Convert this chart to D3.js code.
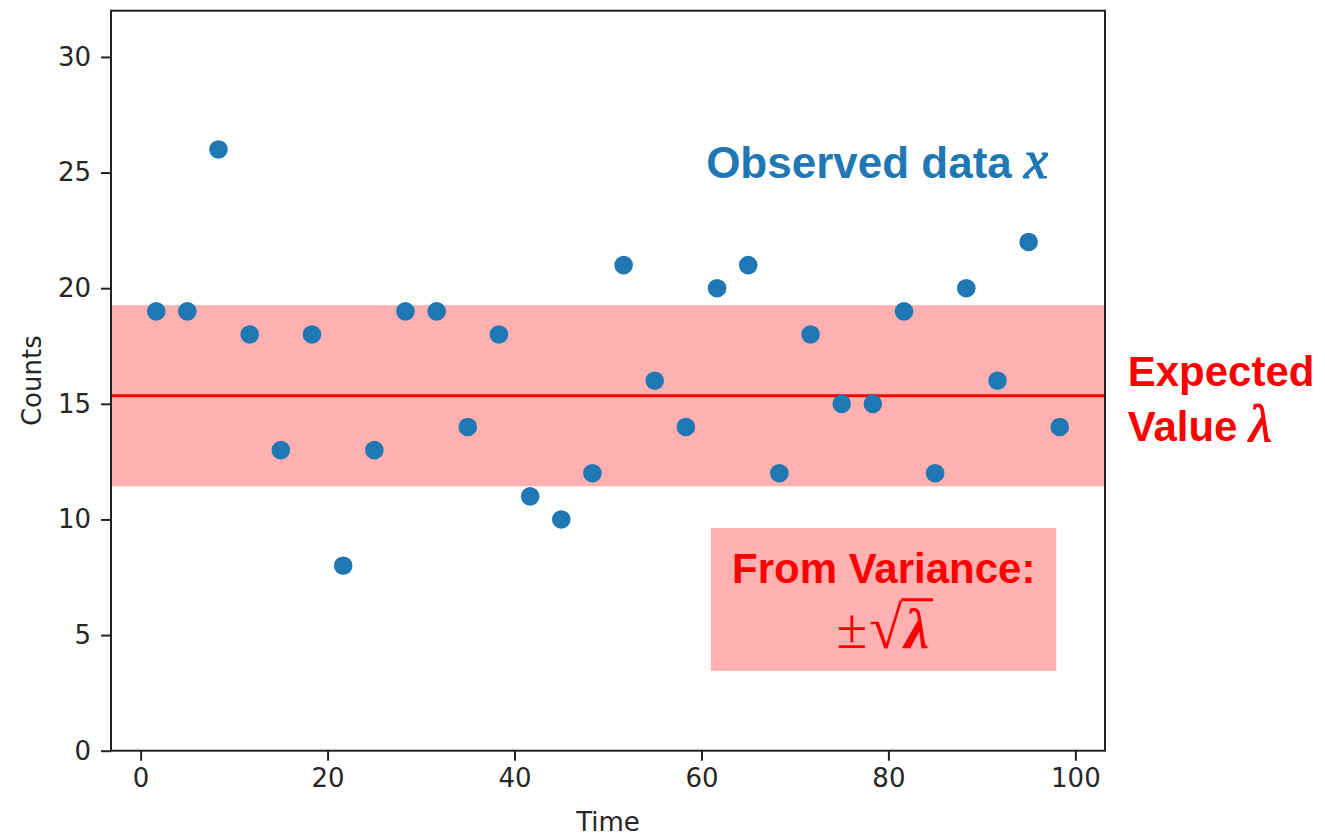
<!DOCTYPE html>
<html><head><meta charset="utf-8">
<script src="https://cdn.jsdelivr.net/npm/d3@7"></script>
<style>body{margin:0;background:#fff;} svg{display:block;}</style>
</head><body>
<svg id="c" width="1325" height="836"></svg>
<script>
// ---- data ----
const times = [1.67, 5, 8.33, 11.67, 15, 18.33, 21.67, 25, 28.33, 31.67, 35, 38.33, 41.67, 45, 48.33,
               51.67, 55, 58.33, 61.67, 65, 68.33, 71.67, 75, 78.33, 81.67, 85, 88.33, 91.67, 95, 98.33];
const counts = [19, 19, 26, 18, 13, 18, 8, 13, 19, 19, 14, 18, 11, 10, 12,
                21, 16, 14, 20, 21, 12, 18, 15, 15, 19, 12, 20, 16, 22, 14];
const expectedValue = 15.35;
const xTicks = [0, 20, 40, 60, 80, 100];
const yTicks = [0, 5, 10, 15, 20, 25, 30];
const xLabel = "Time";
const yLabel = "Counts";

// ---- layout ----
const svg = d3.select("#c");
const L = 111, R = 1105, T = 10.7, B = 750.7;
const x = d3.scaleLinear().domain([-3.17, 103.17]).range([L, R]);
const y = d3.scaleLinear().domain([0, 32]).range([B, T]);
const sd = Math.sqrt(expectedValue);
const bandColor = "#ffb1b1";
const blue = "#1f77b4";
const red = "#ff0000";

// band
svg.append("rect").attr("x", L).attr("width", R - L)
  .attr("y", y(expectedValue + sd)).attr("height", y(expectedValue - sd) - y(expectedValue + sd))
  .attr("fill", bandColor);
// expected line
svg.append("line").attr("x1", L).attr("x2", R)
  .attr("y1", y(expectedValue)).attr("y2", y(expectedValue))
  .attr("stroke", red).attr("stroke-width", 3);

// points
svg.append("g").selectAll("circle").data(times).join("circle")
  .attr("cx", d => x(d)).attr("cy", (d, i) => y(counts[i]))
  .attr("r", 9.3).attr("fill", blue);

// axes
const fontTick = "DejaVu Sans, sans-serif";
const xAxis = svg.append("g").attr("transform", `translate(0,${B})`)
  .call(d3.axisBottom(x).tickValues(xTicks).tickSize(10).tickPadding(8).tickFormat(d3.format("d")));
const yAxis = svg.append("g").attr("transform", `translate(${L},0)`)
  .call(d3.axisLeft(y).tickValues(yTicks).tickSize(10).tickPadding(10).tickFormat(d3.format("d")));
[xAxis, yAxis].forEach(a => {
  a.select(".domain").remove();
  a.selectAll(".tick line").attr("stroke", "#222").attr("stroke-width", 2);
  a.selectAll(".tick text").attr("font-family", fontTick).attr("font-size", 26).attr("fill", "#262626");
});
// frame
svg.append("rect").attr("x", L).attr("y", T).attr("width", R - L).attr("height", B - T)
  .attr("fill", "none").attr("stroke", "#222").attr("stroke-width", 2);

// axis labels
svg.append("text").attr("x", (L + R) / 2).attr("y", 831).attr("text-anchor", "middle")
  .attr("font-family", fontTick).attr("font-size", 26).attr("fill", "#262626").text(xLabel);
svg.append("text").attr("transform", `translate(41,${(T + B) / 2}) rotate(-90)`).attr("text-anchor", "middle")
  .attr("font-family", fontTick).attr("font-size", 26).attr("fill", "#262626").text(yLabel);

// annotations
const annFont = "Liberation Sans, Arial, sans-serif";
const mathFont = "Liberation Serif, DejaVu Serif, serif";
const obs = svg.append("text").attr("x", x(60.5)).attr("y", y(24.77))
  .attr("font-family", annFont).attr("font-weight", 700).attr("font-size", 44).attr("fill", blue);
obs.append("tspan").text("Observed data ");
obs.append("tspan").attr("font-family", mathFont).attr("font-style", "italic").attr("font-weight", 400)
  .attr("font-size", 54).attr("stroke", blue).attr("stroke-width", 1.2).text("x");

svg.append("text").attr("x", x(105.6)).attr("y", y(15.77))
  .attr("font-family", annFont).attr("font-weight", 700).attr("font-size", 42).attr("fill", red).text("Expected");
const ev = svg.append("text").attr("x", x(105.6)).attr("y", y(13.39))
  .attr("font-family", annFont).attr("font-weight", 700).attr("font-size", 42).attr("fill", red);
ev.append("tspan").text("Value ");
ev.append("tspan").attr("font-family", mathFont).attr("font-style", "italic").attr("font-weight", 400)
  .attr("font-size", 52).attr("stroke", red).attr("stroke-width", 1.2).text("λ");

// variance box
svg.append("rect").attr("x", x(61.0)).attr("y", y(9.63)).attr("width", x(97.95) - x(61.0))
  .attr("height", y(3.45) - y(9.63)).attr("fill", bandColor);
const cx = x(79.5);
svg.append("text").attr("x", cx).attr("y", y(7.25)).attr("text-anchor", "middle")
  .attr("font-family", annFont).attr("font-weight", 700).attr("font-size", 42).attr("fill", red).text("From Variance:");

// ±√λ
const mg = svg.append("g");
const baseY = y(4.45);
const pm = mg.append("text").attr("font-family", mathFont).attr("font-size", 56).attr("fill", red).text("±");
const sq = mg.append("text").attr("font-family", mathFont).attr("font-size", 60).attr("fill", red).text("√");
const la = mg.append("text").attr("font-family", mathFont).attr("font-style", "italic").attr("font-weight", 700)
  .attr("font-size", 56).attr("fill", red).text("λ");
const wpm = pm.node().getComputedTextLength();
const wsq = sq.node().getComputedTextLength();
const wla = la.node().getComputedTextLength();
const total = wpm + wsq + wla + 6;
let cur = cx - total / 2;
pm.attr("x", cur).attr("y", baseY); cur += wpm + 2;
sq.attr("x", cur).attr("y", baseY); cur += wsq;
const sqBox = sq.node().getBBox();
la.attr("x", cur + 2).attr("y", baseY);
mg.append("line").attr("x1", cur - 1).attr("x2", cur + wla + 6)
  .attr("y1", sqBox.y + 5).attr("y2", sqBox.y + 5).attr("stroke", red).attr("stroke-width", 3);
</script>
</body></html>
